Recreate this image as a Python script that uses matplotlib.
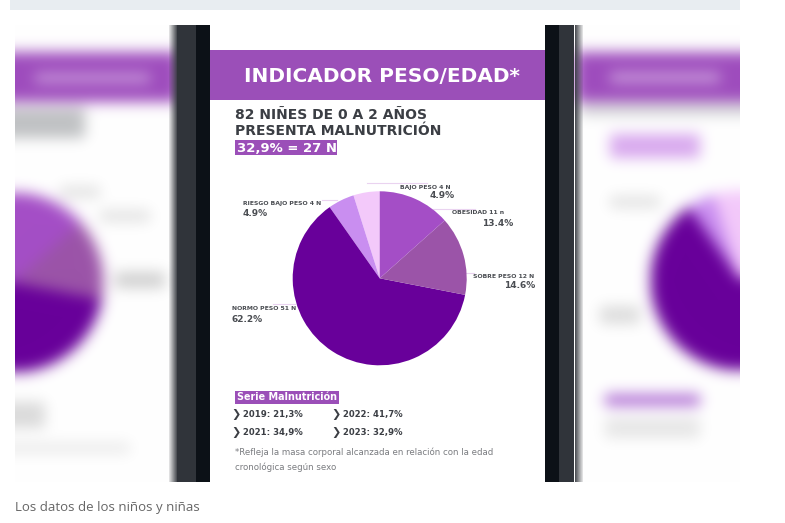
import numpy as np
import matplotlib
matplotlib.use("Agg")
import matplotlib.pyplot as plt
from matplotlib.patches import Rectangle

# pie data (counter-clockwise from 12 o'clock)
labels = ["BAJO PESO 4 N", "RIESGO BAJO PESO 4 N", "NORMO PESO 51 N",
          "SOBRE PESO 12 N", "OBESIDAD 11 n"]
counts = [4, 4, 51, 12, 11]
pcts = ["4.9%", "4.9%", "62.2%", "14.6%", "13.4%"]
colors = ["#f3c9fa", "#c98ef0", "#68009a", "#9b54a8", "#a44ec6"]

title = "INDICADOR PESO/EDAD*"
subtitle = ["82 NIÑES DE 0 A 2 AÑOS", "PRESENTA MALNUTRICIÓN"]
highlight = "32,9% = 27 N"
serie_years = ["2019", "2022", "2021", "2023"]
serie_vals = ["21,3%", "41,7%", "34,9%", "32,9%"]
footnote = ["*Refleja la masa corporal alcanzada en relación con la edad",
            "cronológica según sexo"]
caption = "Los datos de los niños y niñas"

PURPLE = "#9b4fb8"
DARK = "#3b3e44"


def blur(img, s):
    x = np.arange(-3 * s, 3 * s + 1)
    k = np.exp(-0.5 * (x / s) ** 2)
    k /= k.sum()
    pad = len(k) // 2
    H, W = img.shape[:2]
    p = np.pad(img, ((pad, pad), (pad, pad), (0, 0)), mode="edge")
    tmp = sum(k[i] * p[:, i:i + W, :] for i in range(len(k)))
    return sum(k[i] * tmp[i:i + H, :, :] for i in range(len(k)))


def hex2rgb(h):
    return np.array([int(h[i:i + 2], 16) for i in (1, 3, 5)]) / 255.0


# blurred neighbouring slides, canvas covers x 15..740, y 25..482
X0, Y0, W, H = 15, 25, 725, 457
canvas = np.ones((H, W, 3))


def paint(x0, y0, x1, y1, col):
    canvas[y0 - Y0:y1 - Y0, x0 - X0:x1 - X0] = hex2rgb(col)


def paint_pie(cx, cy, r):
    yy, xx = np.mgrid[Y0:Y0 + H, X0:X0 + W]
    dx, dy = xx - cx, cy - yy
    ang = (np.degrees(np.arctan2(dy, dx)) - 90) % 360 / 360.0
    inside = dx ** 2 + dy ** 2 <= r ** 2
    cum = np.concatenate([[0], np.cumsum(counts) / np.sum(counts)])
    for i, c in enumerate(colors):
        m = inside & (ang >= cum[i]) & (ang < cum[i + 1])
        canvas[m] = hex2rgb(c)


for xa, xb in [(15, 180), (575, 740)]:
    paint(xa, 52, xb, 102, "#9e4cbd")
paint(35, 74, 150, 82, "#d0a8e0")
paint(610, 73, 720, 82, "#d0a8e0")
paint(15, 108, 85, 138, "#bfc1c3")
paint(60, 186, 100, 198, "#e2e2e2")
paint(100, 210, 150, 222, "#e2e2e2")
paint(115, 272, 165, 288, "#cfcfcf")
paint(15, 402, 45, 428, "#dadada")
paint(15, 442, 130, 454, "#ececec")
paint(580, 104, 740, 115, "#cfd1d3")
paint(610, 134, 700, 158, "#d8a8ee")
paint(610, 196, 660, 208, "#e2e2e2")
paint(600, 306, 640, 324, "#dcdcdc")
paint(605, 394, 700, 406, "#b070d4")
paint(605, 418, 700, 438, "#e6e6e6")
paint_pie(13, 282, 90)
paint_pie(740, 280, 90)
canvas = np.clip(blur(canvas, 7), 0, 1)

fig = plt.figure(figsize=(7.85, 5.23), dpi=100)
ax = fig.add_axes([0, 0, 1, 1])
ax.set_xlim(0, 785)
ax.set_ylim(523, 0)
ax.axis("off")

ax.add_patch(Rectangle((10, 0), 730, 10, color="#e8edf1", lw=0))
ax.imshow(canvas, extent=[X0, X0 + W, Y0 + H, Y0], aspect="auto",
          interpolation="bilinear", zorder=1)

# phone frame
ax.add_patch(Rectangle((177, 25), 19, 457, color="#30343a", lw=0, zorder=2))
ax.add_patch(Rectangle((196, 25), 14, 457, color="#0c1117", lw=0, zorder=2))
ax.add_patch(Rectangle((545, 25), 14, 457, color="#0c1117", lw=0, zorder=2))
ax.add_patch(Rectangle((559, 25), 15, 457, color="#30343a", lw=0, zorder=2))
for i in range(8):
    a = 0.15 + 0.1 * i
    ax.add_patch(Rectangle((169 + i, 25), 1, 457, color="#30343a", alpha=a, lw=0, zorder=2))
    ax.add_patch(Rectangle((582 - i, 25), 1, 457, color="#30343a", alpha=a, lw=0, zorder=2))

# slide
ax.add_patch(Rectangle((210, 25), 335, 457, color="white", lw=0, zorder=3))
ax.add_patch(Rectangle((210, 50), 335, 50, color=PURPLE, lw=0, zorder=4))
ax.text(382, 76, title, color="white", fontsize=14.5, fontweight="bold",
        ha="center", va="center", zorder=5)
ax.text(235, 115, subtitle[0], color=DARK, fontsize=10, fontweight="bold",
        va="center", zorder=5)
ax.text(235, 131, subtitle[1], color=DARK, fontsize=10, fontweight="bold",
        va="center", zorder=5)
ax.add_patch(Rectangle((235, 140), 102, 15, color=PURPLE, lw=0, zorder=4))
ax.text(237, 148, highlight, color="white", fontsize=9.5, fontweight="bold",
        va="center", zorder=5)

# pie
cx, cy, r = 379.7, 278.3, 87
pax = fig.add_axes([(cx - r) / 785, 1 - (cy + r) / 523, 2 * r / 785, 2 * r / 523])
pax.pie(counts, colors=colors, startangle=90, counterclock=True,
        wedgeprops=dict(linewidth=0))
pax.set_xlim(-1, 1)
pax.set_ylim(-1, 1)

# label layout: (name x, name y, pct x, pct y, pct align, line x0, x1, line y)
lab_pos = [
    (400, 187, 455, 196, "right", 367, 427, 183),
    (243, 204, 243, 214, "left", 322, 337, 200),
    (232, 309, 232, 319, "left", 273, 295, 304),
    (473, 277, 535, 286, "right", 466, 474, 273),
    (452, 213, 513, 223, "right", 433, 475, 209),
]
for lab, pct, (nx, ny, px, py, al, l0, l1, ly) in zip(labels, pcts, lab_pos):
    ax.plot([l0, l1], [ly, ly], color="#ead3f0", lw=0.8, zorder=5)
    ax.text(nx, ny, lab, color="#4a4d52", fontsize=4.4, fontweight="bold",
            va="center", zorder=6)
    ax.text(px, py, pct, color="#4a4d52", fontsize=6.5, fontweight="bold",
            va="center", ha=al, zorder=6)

# serie
ax.add_patch(Rectangle((235, 391), 104, 13, color=PURPLE, lw=0, zorder=4))
ax.text(237, 397.5, "Serie Malnutrición", color="white", fontsize=6.9,
        fontweight="bold", va="center", zorder=5)
row_pos = [(231, 414), (331, 414), (231, 432), (331, 432)]
for yr, v, (x, y) in zip(serie_years, serie_vals, row_pos):
    ax.text(x, y, "❯", color=DARK, fontsize=8, fontweight="bold",
            va="center", zorder=5)
    ax.text(x + 12, y, f"{yr}: {v}", color=DARK, fontsize=6.1,
            fontweight="bold", va="center", zorder=5)
ax.text(235, 452, footnote[0], color="#7a7c80", fontsize=6.2, va="center", zorder=5)
ax.text(235, 467, footnote[1], color="#7a7c80", fontsize=6.2, va="center", zorder=5)

ax.text(15, 507, caption, color="#666666", fontsize=9.5, family="Open Sans",
        va="center")

fig.savefig("out.png", dpi=100)
